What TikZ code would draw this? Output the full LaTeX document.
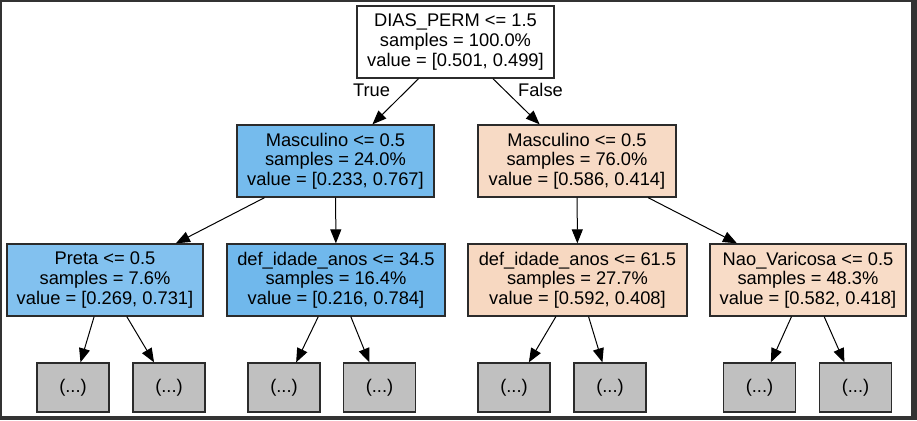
\documentclass[tikz,border=0pt]{standalone}
\usepackage{fontspec}
\setmainfont{Liberation Sans}
\usetikzlibrary{arrows.meta}
\definecolor{frame}{HTML}{333333}
\definecolor{edgec}{HTML}{2B2B2B}
\definecolor{blueA}{RGB}{117,187,237}
\definecolor{blueB}{RGB}{130,193,239}
\definecolor{blueC}{RGB}{112,184,236}
\definecolor{oraA}{RGB}{247,218,197}
\definecolor{oraB}{RGB}{247,216,193}
\definecolor{oraC}{RGB}{248,220,199}
\definecolor{leafc}{HTML}{C0C0C0}
\tikzset{
  tnode/.style={draw=edgec, line width=1.3pt, rectangle, inner sep=0pt, align=center,
    minimum height=72pt, font=\fontsize{18.3}{19.6}\selectfont},
  leafnode/.style={draw=edgec, line width=1.3pt, rectangle, inner sep=0pt, fill=leafc,
    minimum width=72pt, minimum height=49pt, font=\fontsize{18.3}{19.6}\selectfont},
  conn/.style={draw=black, line width=1pt, -{Triangle[length=14pt,width=11pt]}},
  elabel/.style={font=\fontsize{18.3}{19.6}\selectfont, inner sep=0pt}
}
\begin{document}
\begin{tikzpicture}[x=1pt,y=-1pt]
\useasboundingbox (0,0) rectangle (917,420);
\fill[frame] (0,0) rectangle (917,420);
\fill[white] (2,2) rectangle (911,416);

\node[tnode, fill=white, minimum width=197pt] (root) at (455.5,42) {DIAS\_PERM <= 1.5\\samples = 100.0\%\\value = [0.501, 0.499]};
\node[tnode, fill=blueA, minimum width=197pt] (l) at (335.5,161) {Masculino <= 0.5\\samples = 24.0\%\\value = [0.233, 0.767]};
\node[tnode, fill=oraA, minimum width=198pt] (r) at (577,161) {Masculino <= 0.5\\samples = 76.0\%\\value = [0.586, 0.414]};
\node[tnode, fill=blueB, minimum width=196pt] (ll) at (105,280) {Preta <= 0.5\\samples = 7.6\%\\value = [0.269, 0.731]};
\node[tnode, fill=blueC, minimum width=218pt] (lr) at (336,280) {def\_idade\_anos <= 34.5\\samples = 16.4\%\\value = [0.216, 0.784]};
\node[tnode, fill=oraB, minimum width=219pt] (rl) at (577.5,280) {def\_idade\_anos <= 61.5\\samples = 27.7\%\\value = [0.592, 0.408]};
\node[tnode, fill=oraC, minimum width=196pt] (rr) at (808,280) {Nao\_Varicosa <= 0.5\\samples = 48.3\%\\value = [0.582, 0.418]};

\node[leafnode] (a1) at (73,387.5) {(...)};
\node[leafnode] (a2) at (169,387.5) {(...)};
\node[leafnode] (a3) at (284,387.5) {(...)};
\node[leafnode] (a4) at (379.5,387.5) {(...)};
\node[leafnode] (a5) at (514,387.5) {(...)};
\node[leafnode] (a6) at (610,387.5) {(...)};
\node[leafnode] (a7) at (759.5,387.5) {(...)};
\node[leafnode] (a8) at (855.5,387.5) {(...)};

\draw[conn] (root) -- (l);
\draw[conn] (root) -- (r);
\draw[conn] (l) -- (ll);
\draw[conn] (l) -- (lr);
\draw[conn] (r) -- (rl);
\draw[conn] (r) -- (rr);
\draw[conn] (ll) -- (a1);
\draw[conn] (ll) -- (a2);
\draw[conn] (lr) -- (a3);
\draw[conn] (lr) -- (a4);
\draw[conn] (rl) -- (a5);
\draw[conn] (rl) -- (a6);
\draw[conn] (rr) -- (a7);
\draw[conn] (rr) -- (a8);

\node[elabel] (tl) at (371.5,90) {True};
\node[elabel] (fl) at (540.5,90) {False};
\end{tikzpicture}
\end{document}
